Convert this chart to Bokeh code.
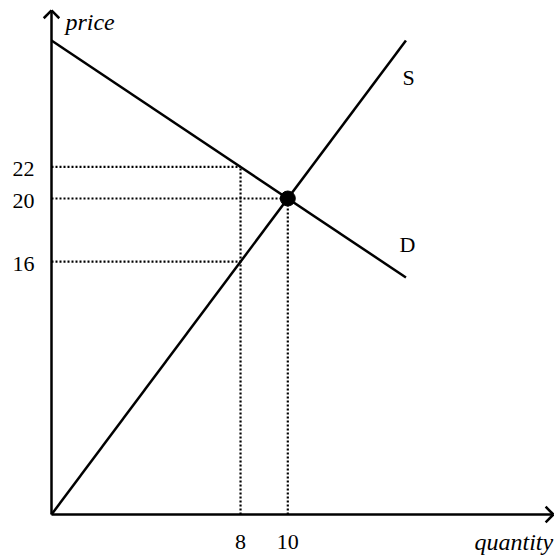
import math
from bokeh.plotting import figure
from bokeh.models import Range1d
from bokeh.core.properties import value
from bokeh.embed import file_html
from bokeh.resources import INLINE

# ---- data ----
supply_q = [0, 15]
supply_p = [0, 30]
demand_q = [0, 15]
demand_p = [30, 15]
eq_q = [10]
eq_p = [20]
guide_p = [22, 20, 16]      # horizontal dotted guides (price levels)
guide_q = [8, 10, 8]        # where each horizontal guide ends
vguide_q = [8, 10]          # vertical dotted guides (quantities)
vguide_p = [22, 20]         # where each vertical guide ends
x_ticks = [8, 10]
x_tick_labels = ["8", "10"]
y_ticks = [22, 20, 16]
y_tick_labels = ["22", "20", "16"]
x_label = "quantity"
y_label = "price"
curve_labels = ["S", "D"]

# ---- geometry (pixels) ----
W, H = 554, 555
X0, Y0 = 51, 514          # origin position on canvas
SX, SY = 23.63, 15.8      # pixels per unit
X_TIP = 21.24
Y_TIP = 31.9

p = figure(width=W, height=H, output_backend="svg", toolbar_location=None,
           x_range=Range1d(-X0 / SX, (W - X0) / SX),
           y_range=Range1d(-(H - Y0) / SY, Y0 / SY),
           x_axis_type=None, y_axis_type=None,
           min_border=0, min_border_left=0, min_border_right=0,
           min_border_top=0, min_border_bottom=0)
p.grid.visible = False
p.outline_line_color = None
p.background_fill_color = "white"
p.border_fill_color = "white"

# dotted guides
p.segment(x0=[0] * len(guide_p), y0=guide_p, x1=guide_q, y1=guide_p,
          line_color="black", line_width=2.2, line_dash="2 2")
p.segment(x0=vguide_q, y0=[0] * len(vguide_q), x1=vguide_q, y1=vguide_p,
          line_color="black", line_width=2.2, line_dash="2 2")

# supply & demand
p.line(supply_q, supply_p, line_color="black", line_width=2.5)
p.line(demand_q, demand_p, line_color="black", line_width=2.5)

# axes
p.segment(x0=[0, 0], y0=[0, 0], x1=[X_TIP, 0], y1=[0, Y_TIP],
          line_color="black", line_width=2.5)
p.ray(x=[X_TIP, X_TIP], y=[0, 0], length=11, length_units="screen",
      angle=[math.radians(135), math.radians(-135)],
      line_color="black", line_width=2.5)
p.ray(x=[0, 0], y=[Y_TIP, Y_TIP], length=11, length_units="screen",
      angle=[math.radians(-45), math.radians(-135)],
      line_color="black", line_width=2.5)

# equilibrium point
p.scatter(eq_q, eq_p, size=15, color="black")

serif = value("Liberation Serif")

# tick labels
p.text(x=x_ticks, y=[0] * len(x_ticks), text=x_tick_labels,
       text_font=serif, text_font_size="22px", text_align="center",
       text_baseline="middle", y_offset=27, text_color="black")
p.text(x=[-0.72] * len(y_ticks), y=y_ticks, text=y_tick_labels,
       text_font=serif, text_font_size="22px", text_align="right",
       text_baseline="middle", y_offset=2, text_color="black")

# axis labels
p.text(x=[0.59], y=[31.14], text=[y_label], text_font=serif,
       text_font_style="italic", text_font_size="24px", text_align="left",
       text_baseline="middle", text_color="black")
p.text(x=[17.9], y=[-1.77], text=[x_label], text_font=serif,
       text_font_style="italic", text_font_size="24px", text_align="left",
       text_baseline="middle", text_color="black")

# curve labels
p.text(x=[14.85, 14.73], y=[27.66, 17.06], text=curve_labels, text_font=serif,
       text_font_size="22px", text_align="left", text_baseline="middle",
       text_color="black")

open("out.html", "w").write(file_html(p, INLINE))
